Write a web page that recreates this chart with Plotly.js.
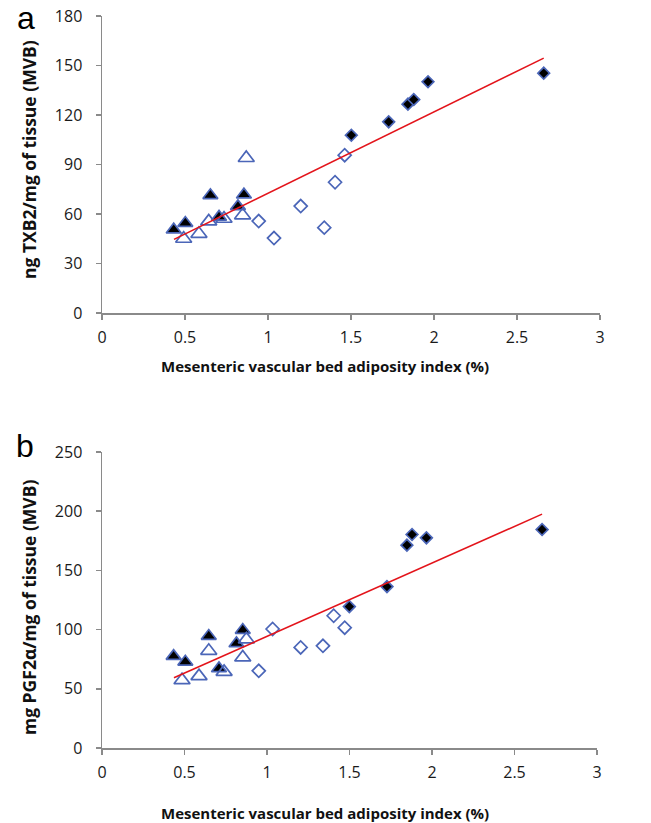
<!DOCTYPE html>
<html>
<head>
<meta charset="utf-8">
<script src="https://cdn.plot.ly/plotly-3.0.1.min.js"></script>
<style>html,body{margin:0;padding:0;background:#fff;}#chart{width:651px;height:823px;}</style>
</head>
<body>
<div id="chart"></div>
<script>
// Panel a: TXB2
var aFilledTriX = [0.432, 0.502, 0.653, 0.705, 0.819, 0.855];
var aFilledTriY = [50.6, 54.6, 71.4, 58.3, 64.7, 71.8];
var aOpenTriX = [0.492, 0.584, 0.643, 0.735, 0.847, 0.869];
var aOpenTriY = [45.1, 48.1, 55.6, 57.2, 59.3, 94.0];
var aOpenDiaX = [0.944, 1.036, 1.197, 1.339, 1.404, 1.462];
var aOpenDiaY = [55.8, 45.5, 64.9, 51.8, 79.3, 95.7];
var aFilledDiaX = [1.502, 1.727, 1.843, 1.878, 1.964, 2.661];
var aFilledDiaY = [107.8, 115.9, 126.6, 129.4, 140.2, 145.4];
var aTrendX = [0.434, 2.661];
var aTrendY = [44.7, 154.5];

// Panel b: PGF2alpha
var bFilledTriX = [0.434, 0.505, 0.647, 0.709, 0.815, 0.853];
var bFilledTriY = [77.6, 72.8, 94.5, 67.2, 88.3, 99.6];
var bOpenTriX = [0.485, 0.588, 0.647, 0.740, 0.853, 0.875];
var bOpenTriY = [57.3, 60.7, 82.1, 64.3, 76.5, 91.7];
var bOpenDiaX = [0.950, 1.034, 1.204, 1.339, 1.404, 1.471];
var bOpenDiaY = [65.2, 100.5, 84.9, 86.3, 111.7, 101.6];
var bFilledDiaX = [1.499, 1.727, 1.848, 1.879, 1.966, 2.667];
var bFilledDiaY = [119.4, 136.3, 171.3, 180.3, 177.5, 184.5];
var bTrendX = [0.436, 2.667];
var bTrendY = [59.3, 197.5];

var xTickVals = [0, 0.5, 1, 1.5, 2, 2.5, 3];
var xTickText = ['0', '0.5', '1', '1.5', '2', '2.5', '3'];
var aYTicks = [0, 30, 60, 90, 120, 150, 180];
var bYTicks = [0, 50, 100, 150, 200, 250];

var xTitle = 'Mesenteric vascular bed adiposity index (%)';
var aYTitle = 'ng TXB2/mg of tissue (MVB)';
var bYTitle = 'mg PGF2α/mg of tissue (MVB)';

var BLUE = '#4b66b8';
var RED = '#e3141b';

function series(x, y, xa, ya, symbol, fill, size) {
  var open = symbol.indexOf('open') >= 0;
  return {
    x: x, y: y, xaxis: xa, yaxis: ya, type: 'scatter', mode: 'markers',
    hoverinfo: 'x+y', showlegend: false,
    marker: open ? {symbol: symbol, size: size, color: BLUE, line: {width: 1.7, color: BLUE}}
                 : {symbol: symbol, size: size, color: fill, line: {width: 1.7, color: BLUE}}
  };
}
function trend(x, y, xa, ya) {
  return {x: x, y: y, xaxis: xa, yaxis: ya, type: 'scatter', mode: 'lines',
          line: {color: RED, width: 1.6}, showlegend: false, hoverinfo: 'skip'};
}

var data = [
  series(aFilledDiaX, aFilledDiaY, 'x', 'y', 'diamond', '#000', 9),
  series(aFilledTriX, aFilledTriY, 'x', 'y', 'triangle-up', '#000', 13),
  series(aOpenDiaX, aOpenDiaY, 'x', 'y', 'diamond-open', null, 10),
  series(aOpenTriX, aOpenTriY, 'x', 'y', 'triangle-up-open', null, 14),
  trend(aTrendX, aTrendY, 'x', 'y'),
  series(bFilledDiaX, bFilledDiaY, 'x2', 'y2', 'diamond', '#000', 9),
  series(bFilledTriX, bFilledTriY, 'x2', 'y2', 'triangle-up', '#000', 13),
  series(bOpenDiaX, bOpenDiaY, 'x2', 'y2', 'diamond-open', null, 10),
  series(bOpenTriX, bOpenTriY, 'x2', 'y2', 'triangle-up-open', null, 14),
  trend(bTrendX, bTrendY, 'x2', 'y2')
];

var tickFont = {family: 'Open Sans, sans-serif', size: 16, color: '#1a1a1a'};
var xTitleFont = {family: 'Open Sans, sans-serif', size: 15, color: '#111'};
var yTitleFont = {family: 'Open Sans, sans-serif', size: 17.5, color: '#111'};

function xaxis(domain, anchor) {
  return {
    domain: domain, anchor: anchor, range: [0, 3], tickmode: 'array',
    tickvals: xTickVals, ticktext: xTickText, showgrid: false, zeroline: false,
    showline: true, linecolor: '#8a8a8a', linewidth: 1.5, ticks: 'outside',
    ticklen: 5, tickwidth: 1.5, tickcolor: '#8a8a8a', tickfont: tickFont,
    ticklabelstandoff: 4
  };
}
function yaxis(domain, anchor, range, ticks) {
  return {
    domain: domain, anchor: anchor, range: range, tickmode: 'array',
    tickvals: ticks, showgrid: false, zeroline: false,
    showline: true, linecolor: '#8a8a8a', linewidth: 1.5, ticks: 'outside',
    ticklen: 5, tickwidth: 1.5, tickcolor: '#8a8a8a', tickfont: tickFont,
    ticklabelstandoff: 10
  };
}

function px2x(p) { return (p - 102) / 498; }
function px2y(p) { return (748 - p) / 732; }

var layout = {
  width: 651, height: 823,
  margin: {l: 102, r: 51, t: 16, b: 75},
  paper_bgcolor: '#fff', plot_bgcolor: '#fff',
  showlegend: false,
  xaxis: xaxis([0, 1], 'y'),
  yaxis: yaxis([0.594, 1], 'x', [0, 180], aYTicks),
  xaxis2: xaxis([0, 0.994], 'y2'),
  yaxis2: yaxis([0, 0.4044], 'x2', [0, 250], bYTicks),
  annotations: [
    {text: 'a', xref: 'paper', yref: 'paper', x: px2x(26), y: px2y(18), xanchor: 'center', yanchor: 'middle',
     showarrow: false, font: {family: 'Liberation Sans, Arial, sans-serif', size: 32, color: '#000'}},
    {text: 'b', xref: 'paper', yref: 'paper', x: px2x(25), y: px2y(446), xanchor: 'center', yanchor: 'middle',
     showarrow: false, font: {family: 'Liberation Sans, Arial, sans-serif', size: 32, color: '#000'}},
    {text: '<b>' + xTitle + '</b>', xref: 'paper', yref: 'paper', x: px2x(325), y: px2y(366),
     xanchor: 'center', yanchor: 'middle', showarrow: false, font: xTitleFont},
    {text: '<b>' + xTitle + '</b>', xref: 'paper', yref: 'paper', x: px2x(325), y: px2y(813),
     xanchor: 'center', yanchor: 'middle', showarrow: false, font: xTitleFont},
    {text: '<b>' + aYTitle + '</b>', xref: 'paper', yref: 'paper', x: px2x(29), y: px2y(160),
     xanchor: 'center', yanchor: 'middle', textangle: -90, showarrow: false, font: yTitleFont},
    {text: '<b>' + bYTitle + '</b>', xref: 'paper', yref: 'paper', x: px2x(29), y: px2y(608),
     xanchor: 'center', yanchor: 'middle', textangle: -90, showarrow: false, font: yTitleFont}
  ]
};

Plotly.newPlot('chart', data, layout, {displayModeBar: false, staticPlot: true});
</script>
</body>
</html>
